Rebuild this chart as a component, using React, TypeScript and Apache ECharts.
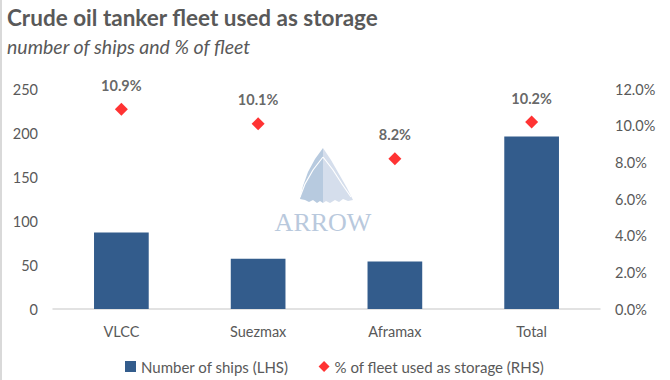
import React, { useEffect, useRef } from "react";
import * as echarts from "echarts";

const categories = ["VLCC", "Suezmax", "Aframax", "Total"];
const ships = [87, 57, 54, 196];
const pctFleet = [10.9, 10.1, 8.2, 10.2];
const leftTicks = [0, 50, 100, 150, 200, 250];
const rightTicks = [0, 2, 4, 6, 8, 10, 12];

const FONT = "Lato, 'Open Sans', sans-serif";
const GREY = "#595959";

export default function App() {
  const ref = useRef<HTMLDivElement>(null);
  useEffect(() => {
    const chart = echarts.init(ref.current!, null, { renderer: "svg" });
    chart.setOption({
      animation: false,
      backgroundColor: "#ffffff",
      textStyle: { fontFamily: FONT },
      title: [
        {
          text: "Crude oil tanker fleet used as storage",
          left: 2,
          top: 1,
          textStyle: { fontFamily: FONT, fontSize: 22.5, fontWeight: "bold", color: GREY },
        },
        {
          text: "number of ships and % of fleet",
          left: 2,
          top: 31,
          textStyle: { fontFamily: FONT, fontSize: 19.5, fontStyle: "italic", fontWeight: "normal", color: GREY },
        },
      ],
      grid: { left: 53, right: 70, top: 89, bottom: 71, containLabel: false },
      legend: {
        left: 120,
        top: 354,
        itemWidth: 11,
        itemHeight: 11,
        itemGap: 30,
        textStyle: { fontFamily: FONT, fontSize: 15, color: GREY },
        data: [
          { name: "Number of ships (LHS)", icon: "rect" },
          { name: "% of fleet used as storage (RHS)", icon: "diamond" },
        ],
      },
      xAxis: {
        type: "category",
        data: categories,
        axisLine: { show: true, lineStyle: { color: "#d9d9d9", width: 1.5 } },
        axisTick: { show: false },
        axisLabel: { fontFamily: FONT, fontSize: 14.5, color: GREY, margin: 15 },
      },
      yAxis: [
        {
          type: "value",
          min: leftTicks[0],
          max: leftTicks[leftTicks.length - 1],
          interval: 50,
          splitLine: { show: false },
          axisLine: { show: false },
          axisTick: { show: false },
          axisLabel: { fontFamily: FONT, fontSize: 14.5, color: GREY, margin: 15 },
        },
        {
          type: "value",
          min: rightTicks[0],
          max: rightTicks[rightTicks.length - 1],
          interval: 2,
          position: "right",
          splitLine: { show: false },
          axisLine: { show: false },
          axisTick: { show: false },
          axisLabel: {
            fontFamily: FONT,
            fontSize: 14.5,
            color: GREY,
            margin: 15,
            formatter: (v: number) => v.toFixed(1) + "%",
          },
        },
      ],
      series: [
        {
          name: "Number of ships (LHS)",
          type: "bar",
          data: ships,
          barWidth: "40%",
          itemStyle: { color: "#335c8c" },
          z: 3,
        },
        {
          name: "% of fleet used as storage (RHS)",
          type: "scatter",
          yAxisIndex: 1,
          data: pctFleet,
          symbol: "diamond",
          symbolSize: 13,
          itemStyle: { color: "#ff0000" },
          label: {
            show: true,
            position: "top",
            distance: 10,
            formatter: (p: any) => p.value.toFixed(1) + "%",
            fontFamily: FONT,
            fontSize: 14.5,
            fontWeight: "bold",
            color: "#404040",
          },
          z: 4,
        },
      ],
      graphic: [
        {
          type: "rect",
          left: 0,
          top: 0,
          shape: { x: 0, y: 0, width: 2, height: 380 },
          style: { fill: "#d9d9d9" },
          silent: true,
        },
        {
          type: "group",
          z: 1,
          silent: true,
          children: [
            {
              type: "polygon",
              shape: {
                points: [
                  [323, 148], [315, 159], [308, 172], [303, 186], [300, 199],
                  [305, 200], [309, 202], [313, 200], [317, 203], [320, 201], [323, 203],
                ],
              },
              style: { fill: "#b7cadf" },
            },
            {
              type: "polygon",
              shape: {
                points: [
                  [323, 148], [331, 160], [339, 174], [347, 188], [353, 200],
                  [348, 201], [343, 199], [339, 202], [335, 200], [330, 203], [326, 201], [323, 203],
                ],
              },
              style: { fill: "#d5deec" },
            },
            {
              type: "polyline",
              shape: { points: [[323, 157], [313, 170], [305, 184], [300, 197]] },
              style: { stroke: "#ffffff", lineWidth: 1.2, fill: "none" },
            },
            {
              type: "polyline",
              shape: { points: [[323, 157], [333, 170], [342, 184], [351, 197]] },
              style: { stroke: "#ffffff", lineWidth: 1.2, fill: "none" },
            },
            {
              type: "text",
              x: 323,
              y: 222,
              style: {
                text: "ARROW",
                fill: "#b9c9dd",
                font: "26px 'Liberation Serif', 'DejaVu Serif', serif",
                align: "center",
                verticalAlign: "middle",
              },
            },
          ],
        },
      ],
    });
    return () => chart.dispose();
  }, []);
  return (
    <div
      ref={ref}
      style={{ position: "fixed", left: 0, top: 0, width: 670, height: 380 }}
    />
  );
}
